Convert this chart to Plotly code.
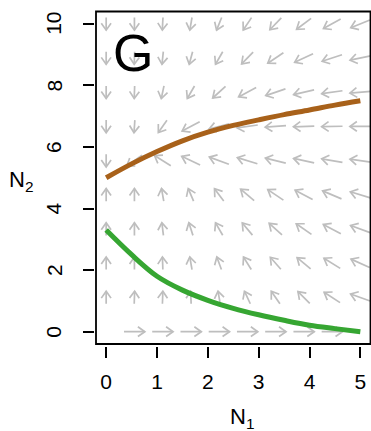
import math
import plotly.graph_objects as go

# ---- data -------------------------------------------------------------
# Grid of the direction field (N1 across, N2 up)
grid_n1 = [0.0, 0.556, 1.111, 1.667, 2.222, 2.778, 3.333, 3.889, 4.444, 5.0]
grid_n2 = [0.0, 1.111, 2.222, 3.333, 4.444, 5.556, 6.667, 7.778, 8.889, 10.0]

# Arrow heading in degrees (0 = right, 90 = up) for each grid row, bottom row first.
# None marks a point with no movement.
arrow_angle = [
    [None, 0, 0, 0, 0, 0, 0, 0, 0, None],              # N2 = 0
    [90, 88, 88, 92, 100, 115, 125, 135, 147, 160],     # N2 = 1.11
    [90, 90, 92, 100, 110, 122, 131, 140, 148, 156],    # N2 = 2.22
    [90, 90, 97, 108, 120, 130, 138, 145, 152, 160],    # N2 = 3.33
    [90, 90, 100, 113, 127, 140, 146, 152, 157, 163],   # N2 = 4.44
    [270, 215, 148, 155, 160, 163, 166, 168, 170, 172], # N2 = 5.56
    [270, 266, 235, 208, 195, 188, 184, 182, 181, 180], # N2 = 6.67
    [270, 268, 258, 240, 222, 208, 199, 193, 188, 185], # N2 = 7.78
    [270, 268, 264, 255, 240, 226, 214, 205, 198, 192], # N2 = 8.89
    [270, 270, 267, 260, 248, 236, 226, 217, 209, 202], # N2 = 10
]

# Zero-growth isoclines
iso_n1 = [0.0, 0.5, 1.0, 1.5, 2.0, 2.5, 3.0, 3.5, 4.0, 4.5, 5.0]
iso_brown_n2 = [5.0, 5.45, 5.85, 6.2, 6.48, 6.7, 6.88, 7.05, 7.2, 7.36, 7.5]
iso_green_n2 = [3.3, 2.5, 1.8, 1.35, 1.02, 0.76, 0.55, 0.37, 0.21, 0.1, 0.0]

x_ticks = [0, 1, 2, 3, 4, 5]
y_ticks = [0, 2, 4, 6, 8, 10]
panel_label = "G"

# ---- layout geometry (pixels) -----------------------------------------
W, H = 371, 431
PL, PR, PT, PB = 96, 370.5, 11.5, 344
XR = [-0.2, 5.2]
YR = [-0.4, 10.4]
kx = (PR - PL) / (XR[1] - XR[0])   # px per N1 unit
ky = (PB - PT) / (YR[1] - YR[0])   # px per N2 unit

ARROW_LEN = 0.41   # arrow length in data units
NORM_P = 3.0       # p-norm used to size the arrows
HEAD_LEN = 8.5     # px
HEAD_ANG = 35.0    # deg

ax_x, ax_y = [], []
for j, yv in enumerate(grid_n2):
    for i, xv in enumerate(grid_n1):
        a = arrow_angle[j][i]
        if a is None:
            continue
        t = math.radians(a)
        dx, dy = math.cos(t) / kx, math.sin(t) / ky
        n = (abs(dx) ** NORM_P + abs(dy) ** NORM_P) ** (1 / NORM_P)
        dx, dy = dx / n * ARROW_LEN, dy / n * ARROW_LEN
        x0, y0 = xv - dx / 2, yv - dy / 2
        x1, y1 = xv + dx / 2, yv + dy / 2
        # head in screen space
        sx, sy = dx * kx, dy * ky
        sn = math.hypot(sx, sy)
        sx, sy = sx / sn, sy / sn
        heads = []
        for s in (1, -1):
            r = math.radians(HEAD_ANG * s)
            hx = sx * math.cos(r) - sy * math.sin(r)
            hy = sx * math.sin(r) + sy * math.cos(r)
            heads.append((x1 - HEAD_LEN * hx / kx, y1 - HEAD_LEN * hy / ky))
        ax_x += [x0, x1, None, heads[0][0], x1, heads[1][0], None]
        ax_y += [y0, y1, None, heads[0][1], y1, heads[1][1], None]

fig = go.Figure()
fig.add_trace(go.Scatter(x=ax_x, y=ax_y, mode="lines",
                         line=dict(color="#BEBEBE", width=1.7),
                         hoverinfo="skip", showlegend=False))
fig.add_trace(go.Scatter(x=iso_n1, y=iso_brown_n2, mode="lines",
                         line=dict(color="#A8611A", width=5, shape="spline"),
                         showlegend=False))
fig.add_trace(go.Scatter(x=iso_n1, y=iso_green_n2, mode="lines",
                         line=dict(color="#36A632", width=5, shape="spline"),
                         showlegend=False))

font = "Liberation Sans, Arial, sans-serif"

# y tick labels, written parallel to the axis
y_labels = [dict(text=str(v), x=54 / W, y=v, xref="paper", yref="y",
                 textangle=-90, showarrow=False, font=dict(size=21),
                 xanchor="center", yanchor="middle") for v in y_ticks]

fig.update_layout(
    width=W, height=H,
    margin=dict(l=0, r=0, t=0, b=0),
    paper_bgcolor="white", plot_bgcolor="white",
    font=dict(family=font, color="black"),
    xaxis=dict(domain=[PL / W, PR / W], range=XR, anchor="free",
               position=(H - 345.5) / H, showgrid=False, zeroline=False,
               showline=False, ticks="outside", ticklen=11, tickwidth=1.8,
               tickcolor="black", tickvals=x_ticks,
               ticktext=[str(v) for v in x_ticks],
               tickfont=dict(size=21), ticklabelstandoff=6, automargin=False),
    yaxis=dict(domain=[(H - PB) / H, (H - PT) / H], range=YR, anchor="free",
               position=93.5 / W, showgrid=False, zeroline=False,
               showline=False, ticks="outside", ticklen=10.5, tickwidth=1.8,
               tickcolor="black", tickvals=y_ticks, showticklabels=False,
               automargin=False),
    shapes=[dict(type="rect", xref="x domain", yref="y domain",
                 x0=0, x1=1, y0=0, y1=1, line=dict(color="black", width=1.8))],
    annotations=y_labels + [
        dict(text="N<sub>1</sub>", x=242 / W, y=(H - 418) / H, xref="paper",
             yref="paper", showarrow=False, font=dict(size=22),
             xanchor="center", yanchor="middle"),
        dict(text="N<sub>2</sub>", x=21 / W, y=(H - 181) / H, xref="paper",
             yref="paper", showarrow=False, font=dict(size=22),
             xanchor="center", yanchor="middle"),
        dict(text=panel_label, x=0.53, y=9.05, xref="x", yref="y",
             showarrow=False, font=dict(size=52),
             xanchor="center", yanchor="middle"),
    ],
)

fig.write_html("out.html")
